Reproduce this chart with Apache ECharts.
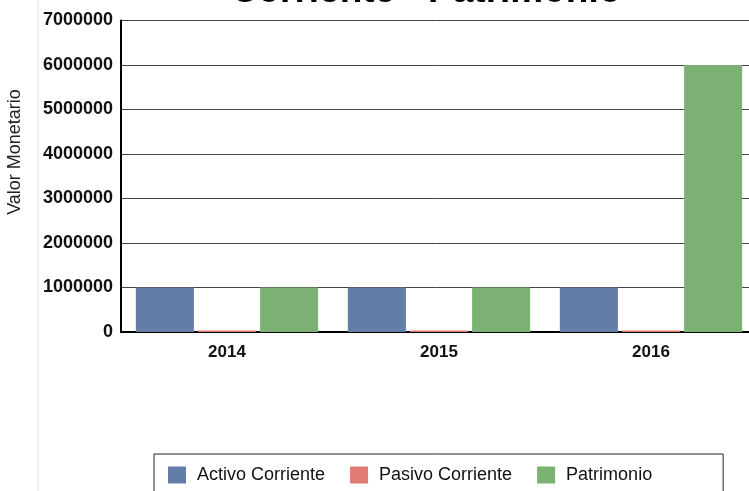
<!DOCTYPE html>
<html>
<head>
<meta charset="utf-8">
<script src="https://cdn.jsdelivr.net/npm/echarts@6/dist/echarts.min.js"></script>
<style>
  html, body { margin: 0; padding: 0; background: #fff; }
  #chart { width: 749px; height: 491px; }
</style>
</head>
<body>
<div id="chart"></div>
<script>
// datos del grafico
const years = ['2014', '2015', '2016'];
const activoCorriente = [1000000, 1000000, 1000000];
const pasivoCorriente = [35000, 35000, 35000];
const patrimonio = [1000000, 1000000, 6000000];
const seriesNames = ['Activo Corriente', 'Pasivo Corriente', 'Patrimonio'];
const seriesColors = ['#647da6', '#e07a72', '#7bb274'];

const chart = echarts.init(document.getElementById('chart'));
const font = 'Liberation Sans, Arial, sans-serif';

const option = {
  animation: false,
  title: {
    text: 'Activo Corriente - Pasivo\nCorriente - Patrimonio',
    left: 421,
    top: -75,
    textAlign: 'center',
    textStyle: { fontFamily: font, fontSize: 37, fontWeight: 'bold', color: '#000', lineHeight: 41 }
  },
  graphic: [
    {
      type: 'line',
      shape: { x1: 38, y1: 0, x2: 38, y2: 491 },
      style: { stroke: '#f0f0f0', lineWidth: 2 }
    },
    {
      type: 'text',
      x: 15, y: 152,
      rotation: Math.PI / 2,
      style: {
        text: 'Valor Monetario',
        font: '18px ' + font,
        fill: '#222',
        textAlign: 'center',
        textVerticalAlign: 'middle'
      }
    }
  ],
  legend: {
    data: seriesNames,
    left: 154,
    top: 454,
    icon: 'rect',
    itemWidth: 18,
    itemHeight: 17,
    itemGap: 25,
    borderColor: '#222',
    borderWidth: 1,
    padding: [12, 71, 12, 14],
    textStyle: { fontFamily: font, fontSize: 18, color: '#111', padding: [0, 0, 0, 6] }
  },
  grid: { left: 121, top: 20.5, right: -8, bottom: 159, containLabel: false, outerBoundsMode: 'none' },
  xAxis: {
    type: 'category',
    data: years,
    axisLine: { lineStyle: { color: '#000', width: 2 } },
    axisTick: { show: false },
    axisLabel: { fontFamily: font, fontSize: 17, fontWeight: 'bold', color: '#111', margin: 12 }
  },
  yAxis: {
    type: 'value',
    min: 0,
    max: 7000000,
    interval: 1000000,
    axisLine: { show: true, lineStyle: { color: '#000', width: 2 } },
    axisTick: { show: false },
    splitLine: { lineStyle: { color: '#444', width: 1 } },
    axisLabel: {
      fontFamily: font, fontSize: 18, fontWeight: 'bold', color: '#111', margin: 8,
      formatter: v => String(v)
    }
  },
  series: [
    { name: seriesNames[0], type: 'bar', data: activoCorriente, itemStyle: { color: seriesColors[0] }, barGap: '7%', barCategoryGap: '14%' },
    { name: seriesNames[1], type: 'bar', data: pasivoCorriente, itemStyle: { color: seriesColors[1] } },
    { name: seriesNames[2], type: 'bar', data: patrimonio, itemStyle: { color: seriesColors[2] } }
  ]
};

chart.setOption(option);
window.addEventListener('resize', () => chart.resize());
</script>
</body>
</html>
